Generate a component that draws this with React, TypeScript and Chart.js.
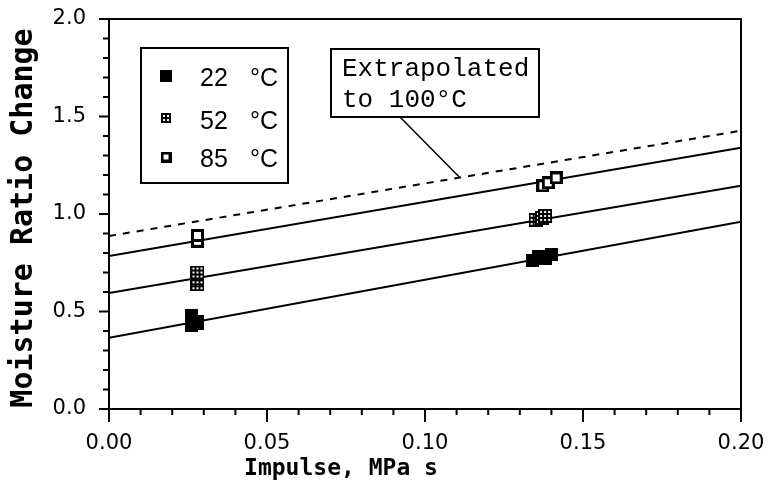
import React, { useEffect, useRef } from "react";
import { Chart, registerables } from "chart.js";

Chart.register(...registerables);

// Fitted lines (x at both ends of the axis)
const fitX = [0, 0.2];
const fit22 = [0.365, 0.96];
const fit52 = [0.595, 1.145];
const fit85 = [0.785, 1.34];
const fit100 = [0.887, 1.427];

// Measured points
const x22 = [0.026, 0.026, 0.028, 0.028, 0.134, 0.136, 0.138, 0.14];
const y22 = [0.43, 0.48, 0.45, 0.44, 0.76, 0.78, 0.77, 0.79];
const x52 = [0.028, 0.028, 0.028, 0.135, 0.137, 0.138];
const y52 = [0.64, 0.67, 0.7, 0.97, 0.98, 0.99];
const x85 = [0.028, 0.028, 0.1373, 0.139, 0.1415];
const y85 = [0.86, 0.89, 1.144, 1.16, 1.185];

const legendLabels = ["22", "52", "85"];
const legendUnit = "°C";
const annotLines = ["Extrapolated", "to 100°C"];
const annotX = 0.111;
const xTitle = "Impulse, MPa s";
const yTitle = "Moisture Ratio Change";

function makeFilled(size: number) {
  const c = document.createElement("canvas");
  c.width = size; c.height = size;
  const g = c.getContext("2d")!;
  g.fillStyle = "#000";
  g.fillRect(0, 0, size, size);
  return c;
}
function makeOpen(size: number) {
  const c = document.createElement("canvas");
  c.width = size; c.height = size;
  const g = c.getContext("2d")!;
  g.fillStyle = "#000";
  g.fillRect(0, 0, size, size);
  g.fillStyle = "#fff";
  g.fillRect(3, 3, size - 6, size - 6);
  return c;
}
function makeGrid(size: number, n: number) {
  const c = document.createElement("canvas");
  c.width = size; c.height = size;
  const g = c.getContext("2d")!;
  g.fillStyle = "#000";
  g.fillRect(0, 0, size, size);
  g.fillStyle = "#fff";
  const cell = 2;
  const gap = (size - n * cell) / (n + 1);
  for (let i = 0; i < n; i++)
    for (let j = 0; j < n; j++)
      g.fillRect(Math.round(gap + i * (cell + gap)), Math.round(gap + j * (cell + gap)), cell, cell);
  return c;
}

const pts = (xs: number[], ys: number[]) => xs.map((x, i) => ({ x, y: ys[i] }));

export default function App() {
  const ref = useRef<HTMLCanvasElement>(null);
  useEffect(() => {
    const filled = makeFilled(13);
    const open = makeOpen(13);
    const grid = makeGrid(14, 3);
    const legFilled = makeFilled(12);
    const legGrid = makeGrid(10, 2);
    const legOpen = makeOpen(11);

    const decor = {
      id: "decor",
      afterDraw(chart: any) {
        const ctx = chart.ctx as CanvasRenderingContext2D;
        const xs = chart.scales.x;
        const ys = chart.scales.y;
        const a = chart.chartArea;
        ctx.save();
        ctx.strokeStyle = "#000";
        ctx.fillStyle = "#000";
        // frame
        ctx.lineWidth = 2;
        ctx.strokeRect(a.left, a.top, a.right - a.left, a.bottom - a.top);
        // ticks
        ctx.lineWidth = 2;
        ctx.beginPath();
        for (let i = 0; i <= 20; i++) {
          const px = xs.getPixelForValue(i * 0.01);
          const len = i % 5 === 0 ? 13 : 6;
          ctx.moveTo(px, a.bottom);
          ctx.lineTo(px, a.bottom + len);
        }
        for (let i = 0; i <= 20; i++) {
          const py = ys.getPixelForValue(i * 0.1);
          const len = i % 5 === 0 ? 10 : 6;
          ctx.moveTo(a.left, py);
          ctx.lineTo(a.left - len, py);
        }
        ctx.stroke();

        // axis titles
        ctx.font = "bold 23px 'DejaVu Sans Mono'";
        ctx.textAlign = "center";
        ctx.textBaseline = "middle";
        ctx.fillText(xTitle, 341, 469);
        ctx.save();
        ctx.translate(24, 218);
        ctx.rotate(-Math.PI / 2);
        ctx.font = "bold 30px 'DejaVu Sans Mono'";
        ctx.fillText(yTitle, 0, 0);
        ctx.restore();

        // legend box
        ctx.lineWidth = 2;
        ctx.fillStyle = "#fff";
        ctx.fillRect(141, 48, 147, 135);
        ctx.strokeRect(141, 48, 147, 135);
        ctx.fillStyle = "#000";
        const rows = [
          { img: legFilled, y: 76 },
          { img: legGrid, y: 118 },
          { img: legOpen, y: 157 },
        ];
        ctx.font = "25px 'Liberation Sans'";
        ctx.textAlign = "left";
        ctx.textBaseline = "alphabetic";
        rows.forEach((r, i) => {
          ctx.drawImage(r.img, 166 - r.img.width / 2, r.y - r.img.height / 2);
          const base = [86, 129, 167][i];
          ctx.fillText(legendLabels[i], 200, base);
          ctx.fillText(legendUnit, 250, base);
        });

        // annotation
        const ex = xs.getPixelForValue(annotX);
        const ev = fit100[0] + (fit100[1] - fit100[0]) * (annotX - fitX[0]) / (fitX[1] - fitX[0]);
        const ey = ys.getPixelForValue(ev);
        ctx.lineWidth = 1.5;
        ctx.beginPath();
        ctx.moveTo(400, 117);
        ctx.lineTo(ex, ey);
        ctx.stroke();
        ctx.lineWidth = 2;
        ctx.fillStyle = "#fff";
        ctx.fillRect(331, 49, 208, 68);
        ctx.strokeRect(331, 49, 208, 68);
        ctx.fillStyle = "#000";
        ctx.font = "26px 'Liberation Mono'";
        ctx.fillText(annotLines[0], 342, 76);
        ctx.fillText(annotLines[1], 342, 107);
        ctx.restore();
      },
    };

    const lineDs = (ys: number[], dash: number[]) => ({
      data: pts(fitX, ys),
      showLine: true,
      borderColor: "#000",
      borderWidth: 2,
      borderDash: dash,
      pointRadius: 0,
      order: 2,
    });
    const ptDs = (xs: number[], ys: number[], img: any) => ({
      data: pts(xs, ys),
      showLine: false,
      pointStyle: img,
      pointRadius: 6,
      backgroundColor: "#000",
      borderColor: "#000",
      order: 1,
    });

    const tickFont = { family: "'DejaVu Sans'", size: 21 };
    const noPad = (s: any) => {
      s.paddingLeft = 0;
      s.paddingRight = 0;
      s.paddingTop = 0;
      s.paddingBottom = 0;
    };

    const chart = new Chart(ref.current!, {
      type: "scatter",
      data: {
        datasets: [
          ptDs(x22, y22, filled),
          ptDs(x52, y52, grid),
          ptDs(x85, y85, open),
          lineDs(fit22, []),
          lineDs(fit52, []),
          lineDs(fit85, []),
          lineDs(fit100, [7, 7]),
        ] as any,
      },
      options: {
        responsive: false,
        animation: false,
        layout: { padding: { top: 19, right: 28, left: 0, bottom: 0 } },
        plugins: { legend: { display: false }, tooltip: { enabled: false } },
        scales: {
          x: {
            type: "linear",
            min: 0,
            max: 0.2,
            grid: { display: false, drawTicks: false },
            border: { display: false },
            ticks: {
              stepSize: 0.05,
              padding: 22,
              color: "#000",
              font: tickFont,
              callback: (v: any) => Number(v).toFixed(2),
            },
            afterFit: (s: any) => { s.height = 76; noPad(s); },
          },
          y: {
            type: "linear",
            min: 0,
            max: 2,
            grid: { display: false, drawTicks: false },
            border: { display: false },
            ticks: {
              stepSize: 0.5,
              padding: 23,
              color: "#000",
              font: tickFont,
              callback: (v: any) => Number(v).toFixed(1),
            },
            afterFit: (s: any) => { s.width = 109; noPad(s); },
          },
        },
      },
      plugins: [decor],
    });
    return () => chart.destroy();
  }, []);

  return (
    <div style={{ position: "absolute", left: 0, top: 0, width: 769, height: 485, background: "#fff" }}>
      <canvas ref={ref} width={769} height={485} style={{ display: "block" }} />
    </div>
  );
}
